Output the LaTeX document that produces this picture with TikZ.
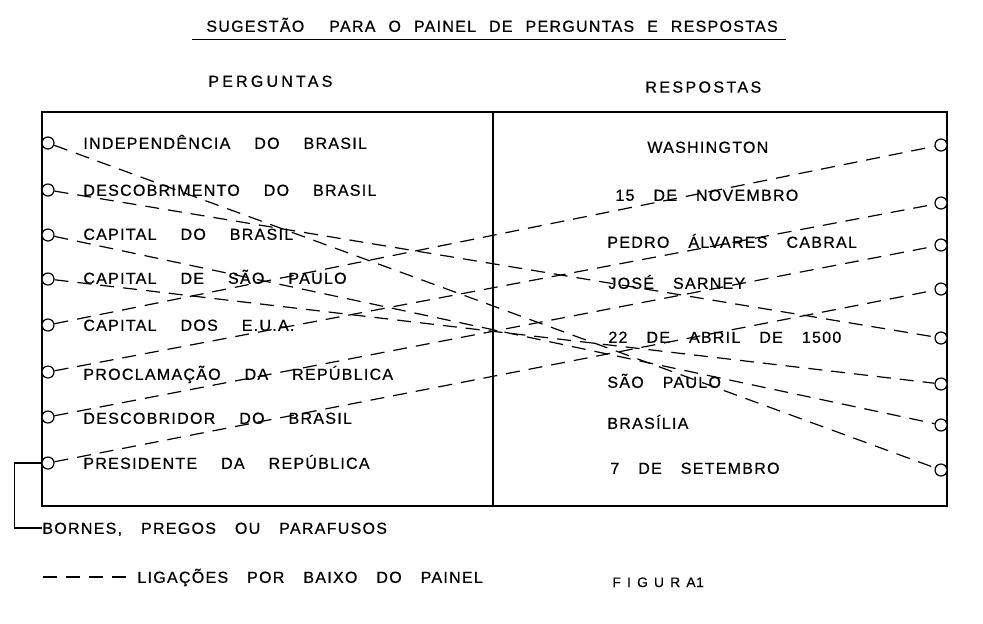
\documentclass[tikz,border=0pt]{standalone}
\usepackage{fontspec}
\setmainfont{Liberation Sans}
\newfontfamily\painelfont[LetterSpace=8,FakeBold=0.6]{Liberation Sans}
\newfontfamily\cabecafont[LetterSpace=20,FakeBold=0.6]{Liberation Sans}
\newfontfamily\respfont[LetterSpace=15,FakeBold=0.6]{Liberation Sans}
\newfontfamily\figurafont[LetterSpace=45,FakeBold=0.4]{Liberation Sans}
\newcommand{\perguntafonte}{\painelfont\fontsize{8pt}{9pt}\selectfont\spaceskip 12pt\relax}
\newcommand{\respostafonte}{\painelfont\fontsize{8pt}{9pt}\selectfont\spaceskip 9.5pt\relax}
\newcommand{\titulofonte}{\painelfont\fontsize{8pt}{9pt}\selectfont\spaceskip 6.5pt\relax}
\newcommand{\figurafonte}{\figurafont\fontsize{6.9pt}{8pt}\selectfont\spaceskip 0.3pt\relax}
\usepackage{tikz}

\begin{document}
\begin{tikzpicture}[x=0.5pt, y=-0.5pt,
            every node/.style = {inner sep=0pt},
            borne/.style = {circle, draw, line width=0.6pt, minimum size=6pt, fill=white},
            pergunta/.style = {anchor=west, text height=5.8pt, text depth=0pt, font=\perguntafonte},
            resposta/.style = {pergunta, font=\respostafonte},
            ligacao/.style = {line width=0.6pt, dash pattern=on 7pt off 4.5pt},
            painel/.style = {line width=0.9pt}]
    \useasboundingbox (0,0) rectangle (983,623);
    % titulo
    \node[pergunta, font=\titulofonte] (titulo) at (206,26)
        {SUGESTÃO\hspace{6pt} PARA O PAINEL DE PERGUNTAS E RESPOSTAS};
    \draw[line width=0.8pt] ([xshift=-7pt,yshift=-3.6pt]titulo.south west) -- ([xshift=4pt,yshift=-3.6pt]titulo.south east);
    \node[pergunta, font=\cabecafont\fontsize{8pt}{9pt}\selectfont] (perguntas) at (208,81) {PERGUNTAS};
    \node[pergunta, font=\respfont\fontsize{8pt}{9pt}\selectfont, text height=5.6pt] (respostas) at (645,87) {RESPOSTAS};
    % painel
    \draw[painel] (42,112) rectangle (947,506);
    \draw[painel] (493,112) -- (493,506);
    \foreach \y [count=\i] in {143,190,235,279,325,372,417,463}
        \node[borne] (l\i) at (48,\y) {};
    \foreach \y [count=\i] in {145,203,245,289,338,384,425,470}
        \node[borne] (r\i) at (941,\y) {};
    % perguntas
    \node[pergunta] (p1) at (83,143) {INDEPENDÊNCIA DO BRASIL};
    \node[pergunta] (p2) at (83,190) {DESCOBRIMENTO DO BRASIL};
    \node[pergunta] (p3) at (83,234) {CAPITAL DO BRASIL};
    \node[pergunta] (p4) at (83,278) {CAPITAL DE SÃO PAULO};
    \node[pergunta] (p5) at (83,325) {CAPITAL DOS E.U.A.};
    \node[pergunta] (p6) at (83,374) {PROCLAMAÇÃO DA REPÚBLICA};
    \node[pergunta] (p7) at (83,418) {DESCOBRIDOR DO BRASIL};
    \node[pergunta] (p8) at (83,463) {PRESIDENTE DA REPÚBLICA};
    % respostas
    \node[resposta] (s1) at (647,147) {WASHINGTON};
    \node[resposta] (s2) at (615,195) {15 DE NOVEMBRO};
    \node[resposta] (s3) at (607,242) {PEDRO ÁLVARES CABRAL};
    \node[resposta] (s4) at (608,283) {JOSÉ SARNEY};
    \node[resposta] (s5) at (608,337) {22 DE ABRIL DE 1500};
    \node[resposta] (s6) at (607,382) {SÃO PAULO};
    \node[resposta] (s7) at (607,423) {BRASÍLIA};
    \node[resposta] (s8) at (610,468) {7 DE SETEMBRO};
    % ligacoes por baixo
    \draw[ligacao] (l1) -- (r8);
    \draw[ligacao] (l2) -- (r5);
    \draw[ligacao] (l3) -- (r7);
    \draw[ligacao] (l4) -- (r6);
    \draw[ligacao] (l5) -- (r1);
    \draw[ligacao] (l6) -- (r2);
    \draw[ligacao] (l7) -- (r3);
    \draw[ligacao] (l8) -- (r4);
    % legenda
    \node[resposta] (bornes) at (42,528) {BORNES, PREGOS OU PARAFUSOS};
    \draw[line width=0.6pt] (l8.west) -- +(-27,0) |- (bornes.west);
    \node[resposta] (ligacoes) at (137,577) {LIGAÇÕES POR BAIXO DO PAINEL};
    \coordinate (legenda) at (43,577);
    \draw[ligacao] (legenda) -- ([xshift=-5pt]ligacoes.west);
    \node[pergunta, text height=5pt, font=\figurafonte] (figura) at (612,582) {FIGURA 1};
\end{tikzpicture}
\end{document}
